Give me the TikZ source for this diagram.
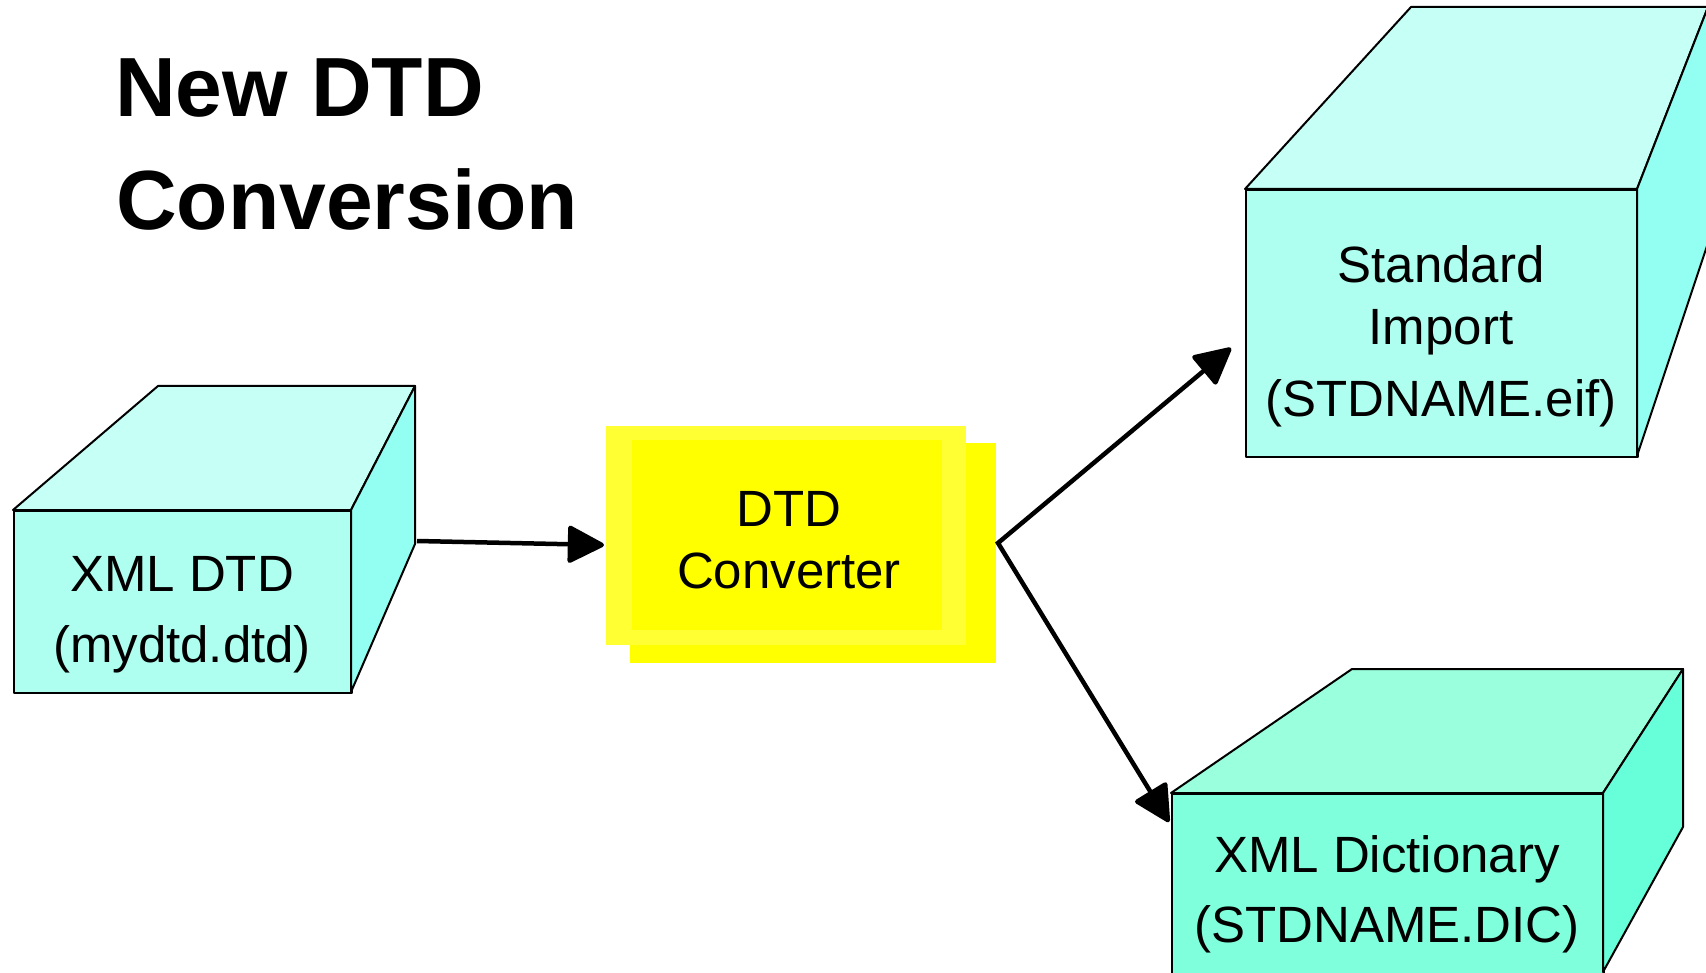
\documentclass[tikz,border=0pt]{standalone}
\usepackage{fontspec}
\setmainfont{Liberation Sans}
\usetikzlibrary{arrows.meta}
\definecolor{cyanfront}{RGB}{175,255,240}
\definecolor{cyantop}{RGB}{198,255,246}
\definecolor{cyanside}{RGB}{146,255,242}
\definecolor{aquafront}{RGB}{128,255,220}
\definecolor{aquatop}{RGB}{153,255,220}
\definecolor{aquaside}{RGB}{102,255,218}
\definecolor{ylwlight}{RGB}{255,255,51}
\definecolor{ylw}{RGB}{255,255,0}
\begin{document}
\begin{tikzpicture}[x=1pt,y=-1pt,
  face/.style={draw=black,line width=2pt,line join=round},
  frontbox/.style={face,inner sep=0pt,anchor=north west},
  lbl/.style={anchor=base,inner sep=0pt,font=\fontsize{51}{61}\selectfont},
  ttl/.style={anchor=base west,inner sep=0pt,font=\fontsize{84}{100}\selectfont\bfseries},
  conn/.style={line width=4.5pt,line join=miter,{Triangle[length=39pt,width=39pt,round]}-{Triangle[length=39pt,width=39pt,round]}},
  conn1/.style={line width=4.5pt,-{Triangle[length=39pt,width=39pt,round]}}]
\useasboundingbox (0,0) rectangle (1706,973);
\clip (0,0) rectangle (1706,973);
\fill[white] (0,0) rectangle (1706,973);

% title
\node[ttl] (title1) at (115,117) {New DTD};
\node[ttl] (title2) at (116,230) {Conversion};

% box 1: XML DTD
\node[frontbox,fill=cyanfront,minimum width=338pt,minimum height=182pt] (b1) at (13,510) {};
\filldraw[face,fill=cyantop] (13,510) -- (158,386) -- (415,386) -- (351,510) -- cycle;
\filldraw[face,fill=cyanside] (351,510) -- (415,386) -- (415,544) -- (351,692) -- cycle;
\node[lbl] (b1t1) at (182,591) {XML DTD};
\node[lbl] (b1t2) at (182,662) {(mydtd.dtd)};

% converter
\fill[ylw] (630,443) rectangle (996,663);
\node[fill=ylwlight,inner sep=0pt,anchor=north west,minimum width=360pt,minimum height=219pt] (conv) at (606,426) {};
\fill[ylw] (632,440) rectangle (942,630);
\node[lbl] (convt1) at (789,526) {DTD};
\node[lbl] (convt2) at (789,588) {Converter};

% box 2: Standard Import
\node[frontbox,fill=cyanfront,minimum width=392pt,minimum height=267pt] (b2) at (1245,189) {};
\filldraw[face,fill=cyantop] (1245,189) -- (1411,7) -- (1708,7) -- (1637,189) -- cycle;
\filldraw[face,fill=cyanside] (1637,189) -- (1708,7) -- (1708,243) -- (1637,456) -- cycle;
\node[lbl] (b2t1) at (1441,283) {Standard};
\node[lbl] (b2t2) at (1441,345) {Import};
\node[lbl] (b2t3) at (1441,417) {(STDNAME.eif)};

% box 3: XML Dictionary
\node[frontbox,fill=aquafront,minimum width=432pt,minimum height=200pt] (b3) at (1171,793) {};
\filldraw[face,fill=aquatop] (1171,793) -- (1352,669) -- (1683,669) -- (1603,793) -- cycle;
\filldraw[face,fill=aquaside] (1603,793) -- (1683,669) -- (1683,827) -- (1603,972) -- cycle;
\node[lbl] (b3t1) at (1387,872) {XML Dictionary};
\node[lbl] (b3t2) at (1387,942) {(STDNAME.DIC)};

% connectors
\coordinate (a1s) at (417,541);
\coordinate (a1e) at (604,545);
\coordinate (fork) at (998,543);
\coordinate (a2e) at (1231,348);
\coordinate (a3e) at (1169,822);
\draw[conn1] (a1s) -- (a1e);
\draw[conn] (a2e) -- (fork) -- (a3e);
\end{tikzpicture}
\end{document}
